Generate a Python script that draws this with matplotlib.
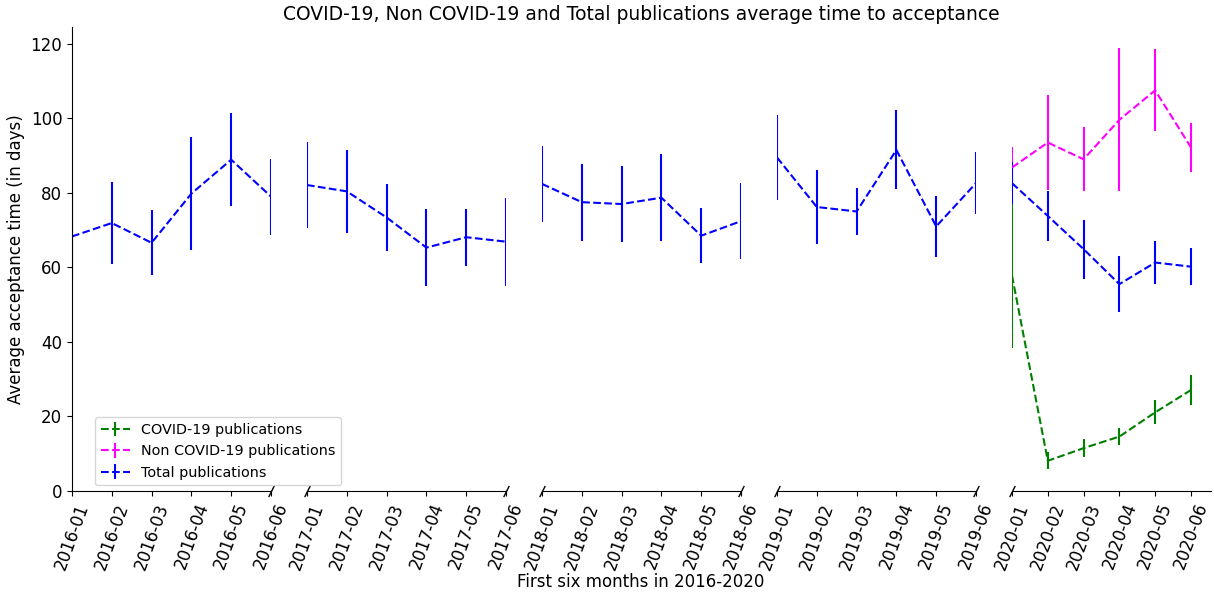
import numpy as np
import matplotlib.pyplot as plt

years = ['2016', '2017', '2018', '2019', '2020']
months = ['01', '02', '03', '04', '05', '06']

total_mean = {
    '2016': [68.3, 71.9, 66.6, 79.8, 88.9, 79.0],
    '2017': [82.1, 80.4, 73.4, 65.3, 68.1, 66.9],
    '2018': [82.4, 77.5, 77.0, 78.7, 68.5, 72.4],
    '2019': [89.5, 76.2, 75.0, 91.5, 71.0, 82.6],
    '2020': [82.6, 73.8, 64.9, 55.5, 61.3, 60.2],
}
total_err = {
    '2016': [11.6, 11.1, 8.7, 15.1, 12.4, 10.2],
    '2017': [11.5, 11.2, 9.1, 10.4, 7.6, 11.8],
    '2018': [10.3, 10.3, 10.3, 11.6, 7.4, 10.2],
    '2019': [11.5, 9.8, 6.4, 10.6, 8.1, 8.3],
    '2020': [5.6, 6.7, 7.9, 7.6, 5.7, 5.0],
}
noncovid_mean = [86.8, 93.5, 89.0, 99.6, 107.5, 92.2]
noncovid_err = [5.4, 12.7, 8.6, 19.2, 11.0, 6.6]
covid_mean = [57.8, 8.1, 11.5, 14.6, 21.1, 27.1]
covid_err = [19.5, 2.3, 2.4, 2.3, 3.2, 4.0]

fig = plt.figure(figsize=(12.14, 5.94), dpi=100)
W, H = 1214., 594.
lefts = [72, 307, 542, 777, 1012]
bottom = 1 - 491 / H
height = (491 - 27) / H
x = np.arange(6)

axes = []
for i, yr in enumerate(years):
    ax = fig.add_axes([lefts[i] / W, bottom, 199 / W, height])
    ax.patch.set_alpha(0)
    if yr == '2020':
        ax.errorbar(x, covid_mean, yerr=covid_err, color='green', ls='--',
                    lw=1.5, label='COVID-19 publications')
        ax.errorbar(x, noncovid_mean, yerr=noncovid_err, color='magenta', ls='--',
                    lw=1.5, label='Non COVID-19 publications')
    ax.errorbar(x, total_mean[yr], yerr=total_err[yr], color='blue', ls='--',
                lw=1.5, label='Total publications')
    ax.set_ylim(0, 124.5)
    ax.set_xlim(0, 5.56 if yr == '2020' else 5)
    ax.set_xticks(x)
    ax.set_xticklabels([yr + '-' + m for m in months], rotation=70, fontsize=12)
    ax.spines['top'].set_visible(False)
    ax.spines['right'].set_visible(False)
    if i > 0:
        ax.spines['left'].set_visible(False)
        ax.set_yticks([])
    else:
        ax.tick_params(axis='y', labelsize=12)
    # break marks
    mk = [(-0.5, -1), (0.5, 1)]
    if i > 0:
        ax.plot([0], [0], transform=ax.transAxes, marker=mk, markersize=8,
                color='k', mew=1, clip_on=False)
    if i < 4:
        ax.plot([1], [0], transform=ax.transAxes, marker=mk, markersize=8,
                color='k', mew=1, clip_on=False)
    axes.append(ax)

axes[0].set_zorder(10)
axes[0].set_ylabel('Average acceptance time (in days)', fontsize=12)
h, l = axes[4].get_legend_handles_labels()
axes[0].legend(h, l, loc='lower left', bbox_to_anchor=(0.115, 0.012),
               borderaxespad=0, fontsize=10.4)

fig.text(641 / W, 1 - 15 / H, 'COVID-19, Non COVID-19 and Total publications average time to acceptance',
         ha='center', va='center', fontsize=13.5)
fig.text(641 / W, 1 - 582 / H, 'First six months in 2016-2020', ha='center', va='center', fontsize=12)

plt.savefig('out.png', dpi=100)
